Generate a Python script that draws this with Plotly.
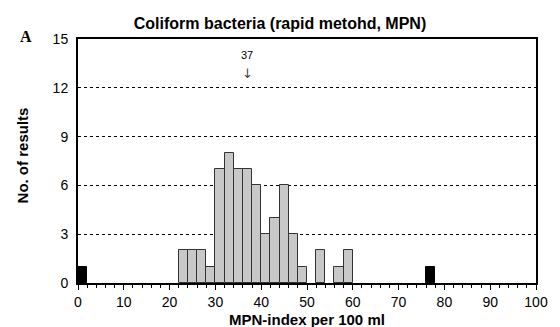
import plotly.graph_objects as go

# Histogram bins (width 2, left edges) and counts
bin_left = [22, 24, 26, 28, 30, 32, 34, 36, 38, 40, 42, 44, 46, 48, 52, 56, 58]
counts =   [2,  2,  2,  1,  7,  8,  7,  7,  6,  3,  4,  6,  3,  1,  2,  1,  2]
# Outlier bins (black)
out_left = [0, 76]
out_counts = [1, 1]
bin_width = 2

x_ticks = list(range(0, 101, 10))
y_ticks = [0, 3, 6, 9, 12, 15]
median_label = "37"
median_x = 37

W, H = 560, 327
L, R, T, B = 78, 12, 39, 44
pw, ph = W - L - R, H - T - B

fig = go.Figure()
fig.add_trace(go.Bar(
    x=[b + bin_width / 2 for b in bin_left], y=counts, width=bin_width,
    marker=dict(color="#c8c8c8", line=dict(color="#333333", width=1)),
    showlegend=False,
))
fig.add_trace(go.Bar(
    x=[b + bin_width / 2 for b in out_left], y=out_counts, width=bin_width,
    marker=dict(color="#000000", line=dict(color="#000000", width=1)),
    showlegend=False,
))

fig.add_annotation(x=median_x, y=14.0, text=median_label, showarrow=False,
                   font=dict(family="Arial, Liberation Sans", size=11, color="#000"))
fig.add_annotation(x=median_x, y=12.9, text="↓", showarrow=False,
                   font=dict(family="DejaVu Sans", size=13, color="#444"))
fig.add_annotation(x=(16 - L) / pw, y=(H - B - 26) / ph, xref="paper", yref="paper",
                   text="<b>A</b>", showarrow=False,
                   font=dict(family="Liberation Serif, Times New Roman", size=16, color="#000"))
# axis titles
fig.add_annotation(x=0.5, y=(H - B - 319) / ph, xref="paper", yref="paper",
                   text="<b>MPN-index per 100 ml</b>", showarrow=False, yanchor="middle",
                   font=dict(family="Arial, Liberation Sans", size=15, color="#000"))
fig.add_annotation(x=(21 - L) / pw, y=(H - B - 155) / ph, xref="paper", yref="paper",
                   text="<b>No. of results</b>", showarrow=False, textangle=-90,
                   xanchor="center", yanchor="middle",
                   font=dict(family="Arial, Liberation Sans", size=15, color="#000"))

fig.update_layout(
    width=W, height=H,
    margin=dict(l=L, r=R, t=T, b=B),
    paper_bgcolor="white", plot_bgcolor="white",
    bargap=0,
    title=dict(text="<b>Coliform bacteria (rapid metohd, MPN)</b>", x=0.5, xref="container",
               y=1 - 23 / H, yref="container", yanchor="middle",
               font=dict(family="Arial, Liberation Sans", size=16, color="#000")),
    font=dict(family="Arial, Liberation Sans", color="#000"),
    xaxis=dict(range=[0, 100], tickvals=x_ticks, ticks="outside", ticklen=5, tickwidth=1,
               tickcolor="#000", showline=True, linecolor="#000", linewidth=2, mirror=True,
               showgrid=False, zeroline=False, tickfont=dict(size=14),
               minor=dict(dtick=2, ticks="outside", ticklen=3, tickcolor="#000", tickwidth=1)),
    yaxis=dict(range=[0, 15], tickvals=y_ticks, ticks="", showline=True, linecolor="#000",
               linewidth=2, mirror=True, showgrid=True, gridcolor="#000", griddash="3px,3px",
               gridwidth=1, zeroline=False, tickfont=dict(size=14), ticklabelstandoff=5),
)
fig.write_html("out.html")
